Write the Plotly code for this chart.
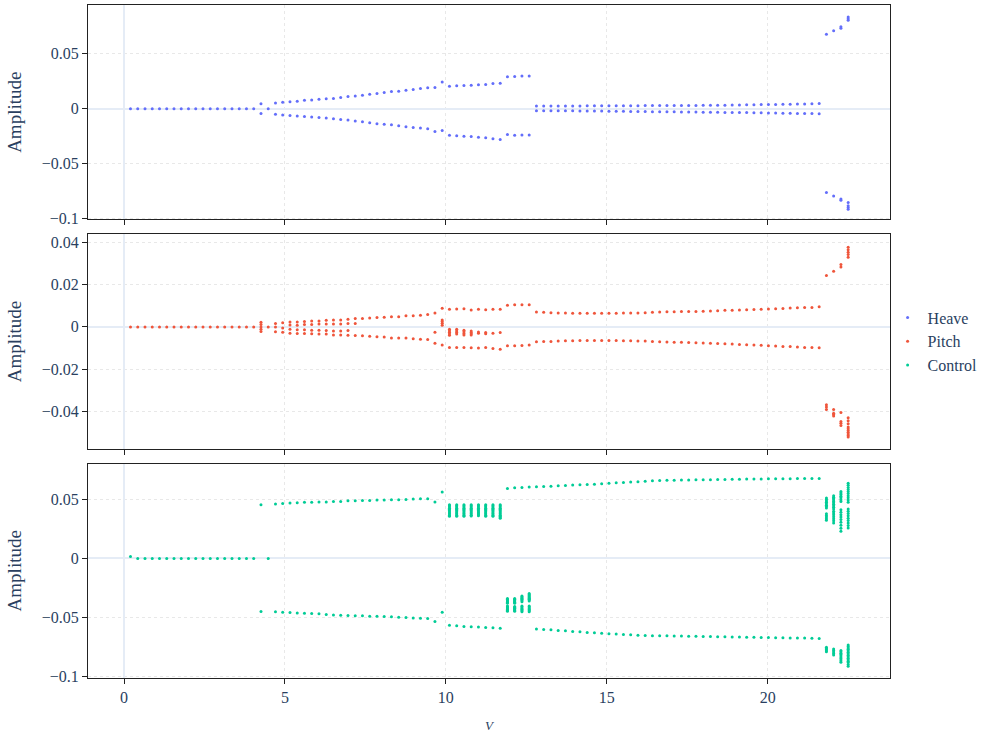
import plotly.graph_objects as go
from plotly.subplots import make_subplots

# ---------------- data ----------------
V = [0.2, 0.425, 0.651, 0.876, 1.101, 1.326, 1.552, 1.777, 2.002, 2.227,
     2.453, 2.678, 2.903, 3.128, 3.354, 3.579, 3.804, 4.029, 4.255, 4.48,
     4.705, 4.93, 5.156, 5.381, 5.606, 5.831, 6.057, 6.282, 6.507, 6.732,
     6.958, 7.183, 7.408, 7.633, 7.859, 8.084, 8.309, 8.534, 8.76, 8.985,
     9.21, 9.435, 9.661, 9.886, 10.111, 10.336, 10.562, 10.787, 11.012, 11.237,
     11.463, 11.688, 11.913, 12.138, 12.364, 12.589, 12.814, 13.039, 13.265, 13.49,
     13.715, 13.94, 14.166, 14.391, 14.616, 14.841, 15.067, 15.292, 15.517, 15.742,
     15.968, 16.193, 16.418, 16.643, 16.869, 17.094, 17.319, 17.544, 17.77, 17.995,
     18.22, 18.445, 18.671, 18.896, 19.121, 19.346, 19.572, 19.797, 20.022, 20.247,
     20.473, 20.698, 20.923, 21.148, 21.374, 21.599, 21.824, 22.049, 22.275, 22.5]

N = None

heave_upper = [0.0, 0.0, 0.0, 0.0, 0.0, 0.0, 0.0, 0.0, 0.0, 0.0,
               0.0, 0.0, 0.0, 0.0, 0.0, 0.0, 0.0, 0.0, 0.0045, 0.0,
               0.0052, 0.0058, 0.0064, 0.0067, 0.0076, 0.0080, 0.0085, 0.0090, 0.0092, 0.0101,
               0.0110, 0.0116, 0.0122, 0.0131, 0.0138, 0.0147, 0.0156, 0.0159, 0.0168, 0.0174,
               0.0183, 0.0190, 0.0193, 0.0242, 0.0205, 0.0208, 0.0211, 0.0214, 0.0217, 0.0220,
               0.0229, 0.0232, 0.0290, 0.0294, 0.0297, 0.0297, 0.0024, 0.0024, 0.0024, 0.0025,
               0.0025, 0.0025, 0.0025, 0.0026, 0.0026, 0.0026, 0.0026, 0.0027, 0.0027, 0.0027,
               0.0027, 0.0028, 0.0028, 0.0028, 0.0028, 0.0029, 0.0029, 0.0030, 0.0030, 0.0031,
               0.0031, 0.0032, 0.0032, 0.0033, 0.0034, 0.0035, 0.0036, 0.0037, 0.0038, 0.0039,
               0.0040, 0.0041, 0.0042, 0.0043, 0.0045, 0.0046, 0.0679, 0.0710, 0.0734, 0.0835]

heave_lower = [N, N, N, N, N, N, N, N, N, N,
               N, N, N, N, N, N, N, N, -0.0045, N,
               -0.0052, -0.0058, -0.0062, -0.0066, -0.0071, -0.0076, -0.0081, -0.0086, -0.0092, -0.0098,
               -0.0104, -0.0113, -0.0119, -0.0128, -0.0138, -0.0141, -0.0147, -0.0156, -0.0165, -0.0171,
               -0.0177, -0.0183, -0.0208, -0.0199, -0.0242, -0.0248, -0.0251, -0.0254, -0.0260, -0.0266,
               -0.0275, -0.0281, -0.0235, -0.0242, -0.0239, -0.0239, -0.0018, -0.0018, -0.0019, -0.0019,
               -0.0020, -0.0020, -0.0021, -0.0021, -0.0022, -0.0022, -0.0023, -0.0024, -0.0024, -0.0025,
               -0.0026, -0.0026, -0.0027, -0.0028, -0.0029, -0.0029, -0.0030, -0.0031, -0.0031, -0.0032,
               -0.0033, -0.0033, -0.0034, -0.0035, -0.0035, -0.0036, -0.0037, -0.0038, -0.0039, -0.0040,
               -0.0041, -0.0042, -0.0043, -0.0044, -0.0045, -0.0046, -0.0765, -0.0795, -0.0823, -0.0856]

heave_cloud_idx = [98, 99]
heave_cloud_amp = [[0.0746, -0.0835], [0.0805, 0.0820, -0.0885, -0.0901, -0.0917]]

pitch_upper = [0.0, 0.0, 0.0, 0.0, 0.0, 0.0, 0.0, 0.0, 0.0, 0.0,
               0.0, 0.0, 0.0, 0.0, 0.0, 0.0, 0.0, 0.0, 0.0022, 0.0,
               0.0016, 0.0019, 0.0023, 0.0023, 0.0025, 0.0028, 0.0028, 0.0031, 0.0033, 0.0033,
               0.0036, 0.0039, 0.0040, 0.0042, 0.0044, 0.0045, 0.0048, 0.0048, 0.0052, 0.0053,
               0.0055, 0.0058, 0.0065, 0.0088, 0.0083, 0.0084, 0.0086, 0.0080, 0.0083, 0.0081,
               0.0083, 0.0083, 0.0102, 0.0105, 0.0105, 0.0105, 0.0070, 0.0069, 0.0067, 0.0066,
               0.0066, 0.0064, 0.0064, 0.0064, 0.0064, 0.0064, 0.0064, 0.0064, 0.0066, 0.0066,
               0.0066, 0.0067, 0.0069, 0.0070, 0.0071, 0.0071, 0.0072, 0.0072, 0.0073, 0.0074,
               0.0075, 0.0076, 0.0078, 0.0079, 0.0080, 0.0081, 0.0082, 0.0083, 0.0084, 0.0086,
               0.0087, 0.0089, 0.0090, 0.0092, 0.0092, 0.0095, 0.0243, 0.0263, 0.0282, 0.0329]

pitch_lower = [N, N, N, N, N, N, N, N, N, N,
               N, N, N, N, N, N, N, N, -0.0022, N,
               -0.0023, -0.0025, -0.0030, -0.0031, -0.0031, -0.0033, -0.0034, -0.0034, -0.0038, -0.0038,
               -0.0039, -0.0041, -0.0042, -0.0044, -0.0047, -0.0048, -0.0052, -0.0052, -0.0053, -0.0056,
               -0.0058, -0.0059, -0.0077, -0.0085, -0.0097, -0.0097, -0.0097, -0.0099, -0.0100, -0.0097,
               -0.0102, -0.0105, -0.0089, -0.0089, -0.0088, -0.0086, -0.0070, -0.0069, -0.0069, -0.0067,
               -0.0066, -0.0066, -0.0064, -0.0064, -0.0064, -0.0064, -0.0064, -0.0064, -0.0066, -0.0066,
               -0.0067, -0.0067, -0.0069, -0.0070, -0.0071, -0.0072, -0.0073, -0.0074, -0.0075, -0.0076,
               -0.0077, -0.0078, -0.0080, -0.0081, -0.0083, -0.0084, -0.0086, -0.0087, -0.0089, -0.0090,
               -0.0092, -0.0093, -0.0095, -0.0097, -0.0097, -0.0098, -0.0368, -0.0390, -0.0404, -0.0429]

pitch_inner_upper = [N, N, N, N, N, N, N, N, N, N,
                     N, N, N, N, N, N, N, N, 0.0011, N,
                     0.0000, N, 0.0009, 0.0008, 0.0011, 0.0011, 0.0013, 0.0013, 0.0014, 0.0014,
                     0.0016, 0.0016, N, N, N, N, N, N, N, N,
                     N, N, N, 0.0033, N, N, N, N, N, N,
                     N, N, N, N, N, N, N, N, N, N,
                     N, N, N, N, N, N, N, N, N, N,
                     N, N, N, N, N, N, N, N, N, N,
                     N, N, N, N, N, N, N, N, N, N,
                     N, N, N, N, N, N, N, N, 0.0294, 0.0352]

pitch_inner_lower = [N, N, N, N, N, N, N, N, N, N,
                     N, N, N, N, N, N, N, N, -0.0011, N,
                     N, -0.0005, -0.0011, -0.0013, -0.0014, -0.0016, -0.0016, -0.0017, -0.0019, -0.0019,
                     -0.0017, N, N, N, N, N, N, N, N, N,
                     N, N, -0.0025, 0.0008, -0.0011, -0.0011, -0.0016, -0.0019, -0.0024, -0.0027,
                     -0.0030, -0.0027, N, N, N, N, N, N, N, N,
                     N, N, N, N, N, N, N, N, N, N,
                     N, N, N, N, N, N, N, N, N, N,
                     N, N, N, N, N, N, N, N, N, N,
                     N, N, N, N, N, N, -0.0378, -0.0407, -0.0446, -0.0443]

pitch_cloud_idx = [18, 43, 44, 45, 46, 47, 48, 49, 96, 97, 98, 99]
pitch_cloud_amp = [[0.0], [0.0025, 0.0017], [-0.0018, -0.0025, -0.0032, -0.0039],
                   [-0.0019, -0.0027, -0.0034], [-0.0023, -0.0031, -0.0038],
                   [-0.0026, -0.0032, -0.0038], [-0.0030], [-0.0032],
                   [-0.0390], [-0.0414, -0.0421], [-0.0455, -0.0465],
                   [0.0341, 0.0364, 0.0376, -0.0457, -0.0473, -0.0481, -0.0489,
                    -0.0497, -0.0505, -0.0513, -0.0520]]

control_upper = [0.0017, 0.0, 0.0, 0.0, 0.0, 0.0, 0.0, 0.0, 0.0, 0.0,
                 0.0, 0.0, 0.0, 0.0, 0.0, 0.0, 0.0, 0.0, 0.0454, 0.0,
                 0.0460, 0.0465, 0.0468, 0.0471, 0.0474, 0.0474, 0.0477, 0.0477, 0.0482, 0.0482,
                 0.0488, 0.0488, 0.0490, 0.0490, 0.0493, 0.0493, 0.0496, 0.0496, 0.0499, 0.0502,
                 0.0505, 0.0505, 0.0477, 0.0561, 0.0454, 0.0454, 0.0454, 0.0454, 0.0454, 0.0454,
                 0.0454, 0.0454, 0.0592, 0.0597, 0.0600, 0.0603, 0.0606, 0.0608, 0.0611, 0.0614,
                 0.0617, 0.0620, 0.0622, 0.0625, 0.0628, 0.0631, 0.0636, 0.0639, 0.0642, 0.0645,
                 0.0648, 0.0653, 0.0656, 0.0659, 0.0660, 0.0661, 0.0662, 0.0663, 0.0664, 0.0665,
                 0.0666, 0.0667, 0.0668, 0.0669, 0.0670, 0.0671, 0.0672, 0.0672, 0.0673, 0.0673,
                 0.0674, 0.0674, 0.0675, 0.0675, 0.0676, 0.0676, 0.0510, 0.0530, 0.0566, 0.0636]

control_lower = [N, N, N, N, N, N, N, N, N, N,
                 N, N, N, N, N, N, N, N, -0.0449, N,
                 -0.0451, -0.0454, -0.0457, -0.0460, -0.0463, -0.0466, -0.0468, -0.0474, -0.0477, -0.0479,
                 -0.0482, -0.0485, -0.0485, -0.0488, -0.0488, -0.0491, -0.0493, -0.0496, -0.0499, -0.0502,
                 -0.0505, -0.0507, -0.0533, -0.0454, -0.0564, -0.0569, -0.0575, -0.0578, -0.0580, -0.0583,
                 -0.0586, -0.0589, N, N, N, N, -0.0597, -0.0600, -0.0603, -0.0608,
                 -0.0611, -0.0617, -0.0620, -0.0625, -0.0628, -0.0631, -0.0636, -0.0639, -0.0642, -0.0645,
                 -0.0648, -0.0650, -0.0653, -0.0653, -0.0654, -0.0655, -0.0656, -0.0657, -0.0658, -0.0659,
                 -0.0660, -0.0661, -0.0662, -0.0663, -0.0664, -0.0665, -0.0666, -0.0667, -0.0668, -0.0669,
                 -0.0670, -0.0671, -0.0672, -0.0673, -0.0675, -0.0676, -0.0751, -0.0765, -0.0777, -0.0732]

control_cloud_idx = [44, 45, 46, 47, 48, 49, 50, 51, 52, 53, 54, 55, 96, 97, 98, 99]
control_cloud_amp = [
    [0.0445, 0.0435, 0.0425, 0.0415, 0.0405, 0.0395, 0.0385, 0.0375, 0.0365, 0.0356],
    [0.0445, 0.0435, 0.0425, 0.0415, 0.0405, 0.0395, 0.0385, 0.0375, 0.0365, 0.0356],
    [0.0445, 0.0435, 0.0425, 0.0415, 0.0405, 0.0395, 0.0385, 0.0375, 0.0365, 0.0356],
    [0.0445, 0.0435, 0.0425, 0.0415, 0.0405, 0.0395, 0.0385, 0.0375, 0.0366, 0.0358],
    [0.0445, 0.0435, 0.0425, 0.0415, 0.0405, 0.0395, 0.0386, 0.0378, 0.0369, 0.0360],
    [0.0445, 0.0435, 0.0425, 0.0415, 0.0405, 0.0395, 0.0385, 0.0375, 0.0365, 0.0356],
    [0.0445, 0.0435, 0.0425, 0.0415, 0.0405, 0.0395, 0.0385, 0.0375, 0.0365, 0.0356],
    [0.0445, 0.0435, 0.0425, 0.0415, 0.0405, 0.0395, 0.0385, 0.0375, 0.0365, 0.0356, 0.0347, 0.0339],
    [-0.0339, -0.0345, -0.0352, -0.0358, -0.0365, -0.0371, -0.0378,
     -0.0401, -0.0409, -0.0416, -0.0424, -0.0431, -0.0438, -0.0446],
    [-0.0339, -0.0345, -0.0352, -0.0358, -0.0365, -0.0371, -0.0378,
     -0.0406, -0.0413, -0.0420, -0.0427, -0.0433, -0.0440, -0.0446],
    [-0.0317, -0.0324, -0.0331, -0.0338, -0.0345, -0.0355, -0.0365,
     -0.0401, -0.0409, -0.0418, -0.0426, -0.0434, -0.0442, -0.0451],
    [-0.0297, -0.0305, -0.0313, -0.0321, -0.0329, -0.0337, -0.0345, -0.0352, -0.0359,
     -0.0401, -0.0409, -0.0418, -0.0426, -0.0434, -0.0442, -0.0451],
    [0.0498, 0.0486, 0.0474, 0.0462, 0.0450, 0.0438, 0.0426, 0.0378, 0.0364, 0.0350, 0.0336, 0.0322,
     -0.0760, -0.0770, -0.0779, -0.0788],
    [0.0518, 0.0506, 0.0494, 0.0482, 0.0470, 0.0457, 0.0445, 0.0432, 0.0418,
     0.0398, 0.0384, 0.0370, 0.0352, 0.0335, 0.0318, 0.0300,
     -0.0778, -0.0790, -0.0803, -0.0816],
    [0.0553, 0.0540, 0.0526, 0.0512, 0.0497, 0.0482, 0.0412, 0.0391, 0.0370, 0.0350,
     0.0330, 0.0305, 0.0280, 0.0255, 0.0230,
     -0.0788, -0.0800, -0.0812, -0.0825, -0.0838, -0.0850, -0.0864, -0.0877],
    [0.0618, 0.0600, 0.0583, 0.0565, 0.0548, 0.0530, 0.0512, 0.0495, 0.0474,
     0.0418, 0.0399, 0.0380, 0.0360, 0.0340, 0.0320, 0.0300, 0.0279, 0.0258,
     -0.0744, -0.0756, -0.0768, -0.0780, -0.0793, -0.0805, -0.0818, -0.0830,
     -0.0843, -0.0855, -0.0868, -0.0880, -0.0895, -0.0911],
]

series_names = ["Heave", "Pitch", "Control"]
series_colors = ["#636EFA", "#EF553B", "#00CC96"]


def collect(branches, cloud_idx, cloud_amp):
    xs, ys = [], []
    for br in branches:
        for v, a in zip(V, br):
            if a is not None:
                xs.append(v)
                ys.append(a)
    for i, amps in zip(cloud_idx, cloud_amp):
        for a in amps:
            xs.append(V[i])
            ys.append(a)
    return xs, ys


data_sets = [
    collect([heave_upper, heave_lower], heave_cloud_idx, heave_cloud_amp),
    collect([pitch_upper, pitch_lower, pitch_inner_upper, pitch_inner_lower],
            pitch_cloud_idx, pitch_cloud_amp),
    collect([control_upper, control_lower], control_cloud_idx, control_cloud_amp),
]

# ---------------- figure ----------------
FONT = "Liberation Serif"
font_col = "#2a3f5f"

fig = make_subplots(rows=3, cols=1, shared_xaxes=True, vertical_spacing=0.022)

for r, ((xs, ys), name, col) in enumerate(zip(data_sets, series_names, series_colors), start=1):
    fig.add_trace(go.Scatter(x=xs, y=ys, mode="markers", name=name,
                             marker=dict(color=col, size=3, line=dict(width=0))),
                  row=r, col=1)

axis_common = dict(showline=True, linecolor="#222", linewidth=1, mirror=True,
                   ticks="outside", ticklen=5, tickcolor="#222",
                   showgrid=True, gridcolor="#E8E8E8", griddash="dot",
                   zeroline=True, zerolinecolor="#E5ECF6", zerolinewidth=2,
                   tickfont=dict(family=FONT, size=16, color=font_col))

yranges = [[-0.101, 0.0945], [-0.0575, 0.0437], [-0.101, 0.0802]]
for r in range(1, 4):
    fig.update_yaxes(axis_common, row=r, col=1, range=yranges[r - 1],
                     title=dict(text="Amplitude", font=dict(family=FONT, size=19, color=font_col)))
    fig.update_xaxes(axis_common, row=r, col=1, range=[-1.12, 23.8],
                     tickvals=[0, 5, 10, 15, 20])

fig.update_xaxes(title=dict(text="<i>V</i>", font=dict(family=FONT, size=13, color=font_col)),
                 row=3, col=1)

fig.update_layout(
    width=987, height=734,
    template="plotly",
    plot_bgcolor="white", paper_bgcolor="white",
    font=dict(family=FONT, color=font_col, size=16),
    margin=dict(l=88, r=97, t=5, b=56, autoexpand=False),
    legend=dict(x=0.997, y=0.5, yanchor="middle", xanchor="left",
                font=dict(family=FONT, size=16, color=font_col), bgcolor="rgba(0,0,0,0)"),
)

fig.write_html("out.html")
